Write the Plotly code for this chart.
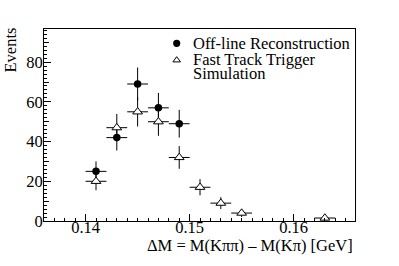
import plotly.graph_objects as go

# ---- data ----
offline_x = [0.141, 0.143, 0.145, 0.147, 0.149]
offline_y = [25, 42, 69, 57, 49]
offline_err = [5.0, 6.5, 8.3, 7.5, 7.0]

ftt_x = [0.141, 0.143, 0.145, 0.147, 0.149, 0.151, 0.153, 0.155, 0.163]
ftt_y = [20, 47, 55, 50, 32, 17, 9, 4, 1.5]
ftt_err = [4.5, 6.9, 7.4, 7.1, 5.7, 4.1, 3.0, 2.0, 1.2]

bin_half = 0.001

x_range = [0.1360, 0.1659]
y_range = [0, 96.7]
x_ticks = [0.14, 0.15, 0.16]
x_ticktext = ["0.14", "0.15", "0.16"]
y_ticks = [0, 20, 40, 60, 80]

FONT = "Liberation Serif"
FS = 16.5

fig = go.Figure()

fig.add_trace(go.Scatter(
    x=offline_x, y=offline_y, mode="markers",
    marker=dict(symbol="circle", size=7.5, color="black"),
    error_y=dict(type="data", array=offline_err, thickness=1, width=0, color="black"),
    error_x=dict(type="data", array=[bin_half] * len(offline_x), thickness=1, width=0, color="black"),
    showlegend=False, name="Off-line Reconstruction"))

fig.add_trace(go.Scatter(
    x=ftt_x, y=ftt_y, mode="markers",
    marker=dict(symbol="triangle-up", size=8.5, color="white",
                line=dict(color="black", width=1)),
    error_y=dict(type="data", array=ftt_err, thickness=1, width=0, color="black"),
    error_x=dict(type="data", array=[bin_half] * len(ftt_x), thickness=1, width=0, color="black"),
    showlegend=False, name="Fast Track Trigger Simulation"))

# medium y ticks on an overlay axis
fig.add_trace(go.Scatter(x=[None], y=[None], yaxis="y2", showlegend=False, hoverinfo="skip"))

# ---- legend drawn as shapes + text ----
L = dict(xref="paper", yref="paper")
cx, cy = 0.4267, 0.9255
W, H = 311.0, 192.0
r = 3.6
fig.add_shape(type="circle", x0=cx - r / W, x1=cx + r / W, y0=cy - r / H, y1=cy + r / H,
              fillcolor="black", line=dict(color="black", width=0), **L)
tx, ty = 0.4267, 0.8422
hw, hh = 3.8 / W, 2.6 / H
fig.add_shape(type="path",
              path=f"M {tx - hw} {ty - hh} L {tx + hw} {ty - hh} L {tx} {ty + hh} Z",
              line=dict(color="black", width=1), fillcolor="white", **L)

for txt, yy in [("Off-line Reconstruction", 0.9255), ("Fast Track Trigger", 0.8422), ("Simulation", 0.7693)]:
    fig.add_annotation(text=txt, x=0.4717, y=yy, xanchor="left", yanchor="middle",
                       showarrow=False, font=dict(family=FONT, size=FS, color="black"), **L)

# axis titles
fig.add_annotation(text="Events", textangle=-90, x=-0.1093, y=0.888, xanchor="center", yanchor="middle",
                   showarrow=False, font=dict(family=FONT, size=FS, color="black"), **L)
fig.add_annotation(text="ΔM = M(Kππ) – M(Kπ) [GeV]", x=1.0, y=-0.130, xanchor="right", yanchor="middle",
                   showarrow=False, font=dict(family=FONT, size=FS, color="black"), **L)

axis_common = dict(showline=True, linecolor="black", linewidth=1, mirror=True,
                   showgrid=False, zeroline=False, ticks="inside", tickcolor="black",
                   tickwidth=1, tickfont=dict(family=FONT, size=FS, color="black"))

fig.update_layout(
    width=399, height=266,
    margin=dict(l=44, r=44, t=29, b=45),
    paper_bgcolor="white", plot_bgcolor="white",
    xaxis=dict(range=x_range, tickvals=x_ticks, ticktext=x_ticktext, ticklen=7,
               ticklabelstandoff=-9,
               minor=dict(dtick=0.001, ticklen=3.5, ticks="inside", tickcolor="black", showgrid=False),
               **axis_common),
    yaxis=dict(range=y_range, tickvals=y_ticks, ticklen=7, ticklabelstandoff=-3,
               minor=dict(dtick=2, ticklen=2.5, ticks="inside", tickcolor="black", showgrid=False),
               **axis_common),
    yaxis2=dict(range=y_range, overlaying="y", side="left", showline=False, showgrid=False,
                zeroline=False, ticks="inside", ticklen=4.5, tickcolor="black", tickwidth=1,
                dtick=10, tick0=0, showticklabels=False),
    showlegend=False,
)

fig.write_html("out.html", config={"displayModeBar": False},
               post_script="document.body.style.margin='0px';")
